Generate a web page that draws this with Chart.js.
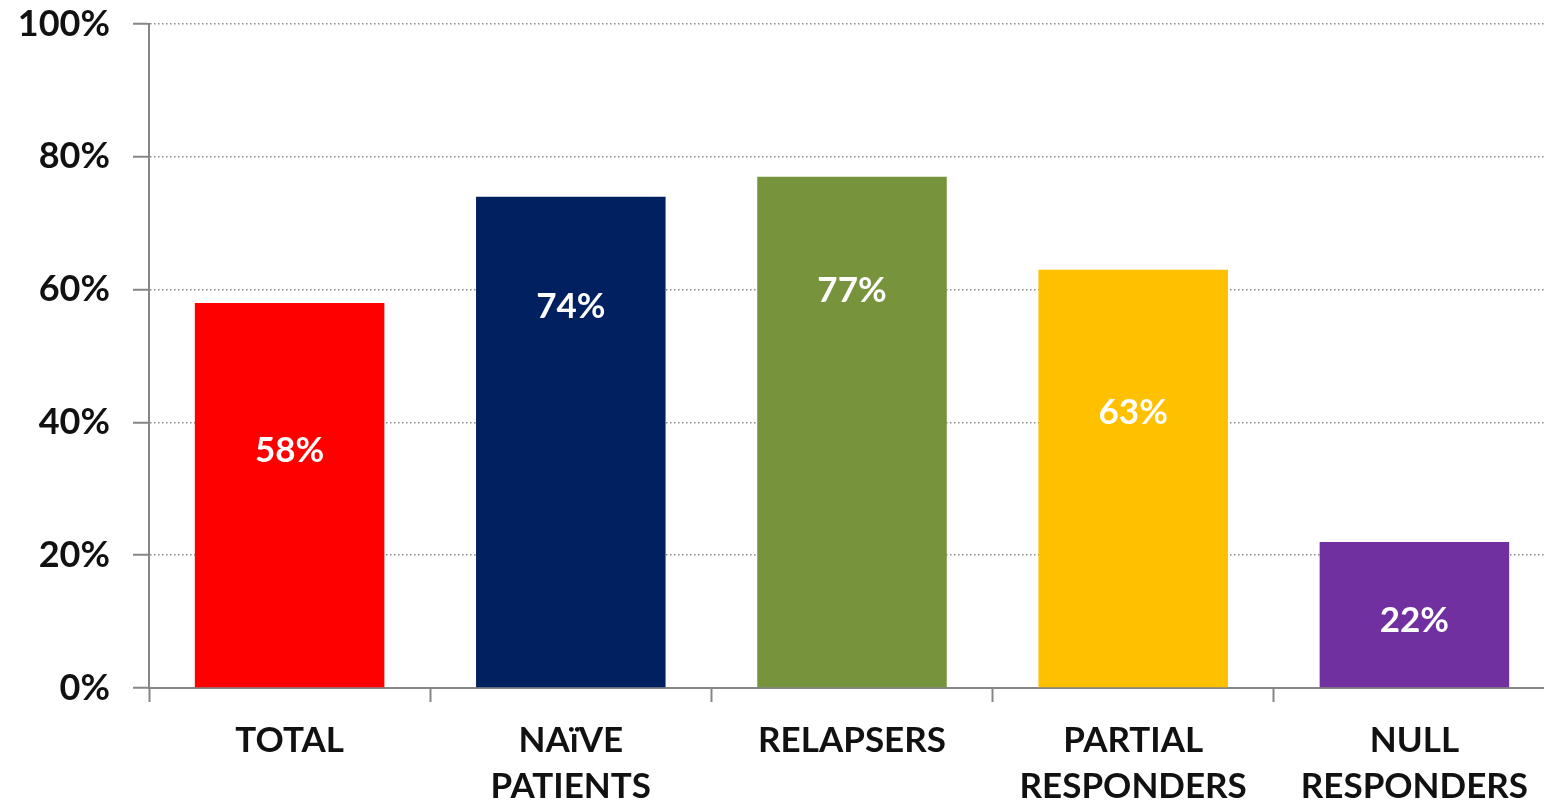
<!DOCTYPE html>
<html>
<head>
<meta charset="utf-8">
<script src="https://cdn.jsdelivr.net/npm/chart.js@4"></script>
<style>
  html, body { margin: 0; padding: 0; background: #fff; overflow: hidden; }
  #wrap { width: 1555px; height: 805px; }
</style>
</head>
<body>
<div id="wrap"><canvas id="responseChart"></canvas></div>
<script>
const categories = [
  "TOTAL",
  ["NAïVE", "PATIENTS"],
  "RELAPSERS",
  ["PARTIAL", "RESPONDERS"],
  ["NULL", "RESPONDERS"],
];
const responseRates = [58, 74, 77, 63, 22];
const valueLabels = ["58%", "74%", "77%", "63%", "22%"];
// where each value label sits, in axis units
const labelAt = [35.8, 57.4, 59.8, 41.4, 10.2];
const barColors = ["#ff0000", "#002060", "#77933c", "#ffc000", "#7030a0"];
const yTicks = [0, 20, 40, 60, 80, 100];

const AXIS_GRAY = "#868686";
const FONT = "Lato, 'Open Sans', sans-serif";

const barLabels = {
  id: "barLabels",
  afterDatasetsDraw(chart) {
    const { ctx } = chart;
    const meta = chart.getDatasetMeta(0);
    const y = chart.scales.y;
    ctx.save();
    ctx.fillStyle = "#ffffff";
    ctx.font = "bold 35px " + FONT;
    ctx.textAlign = "center";
    ctx.textBaseline = "middle";
    meta.data.forEach((bar, i) => {
      ctx.fillText(valueLabels[i], bar.x, y.getPixelForValue(labelAt[i]));
    });
    ctx.restore();
  },
};

new Chart(document.getElementById("responseChart"), {
  type: "bar",
  data: {
    labels: categories,
    datasets: [
      {
        data: responseRates,
        backgroundColor: barColors,
        borderWidth: 0,
        barPercentage: 0.674,
        categoryPercentage: 1,
      },
    ],
  },
  options: {
    responsive: true,
    maintainAspectRatio: false,
    animation: false,
    layout: { padding: { top: 24, right: 0, bottom: 0, left: 0 } },
    plugins: {
      legend: { display: false },
      tooltip: { enabled: false },
    },
    scales: {
      x: {
        offset: true,
        afterFit: (s) => { s.height = 117; },
        grid: {
          offset: true,
          drawOnChartArea: false,
          drawTicks: true,
          tickLength: 14,
          tickColor: AXIS_GRAY,
          tickWidth: 2,
          color: AXIS_GRAY,
        },
        border: { color: AXIS_GRAY, width: 2 },
        ticks: {
          color: "#111",
          padding: 15,
          maxRotation: 0,
          autoSkip: false,
          font: { family: FONT, size: 35, weight: "bold", lineHeight: 1.33 },
        },
      },
      y: {
        min: 0,
        max: 100,
        afterFit: (s) => {
          s.width = 149;
          s.paddingTop = 0;
          s.paddingBottom = 0;
        },
        afterBuildTicks: (s) => { s.ticks = yTicks.map((v) => ({ value: v })); },
        grid: {
          color: "#8c8c8c",
          lineWidth: 1.5,
          drawTicks: true,
          tickLength: 16,
          tickColor: AXIS_GRAY,
          tickWidth: 2,
        },
        border: { color: AXIS_GRAY, width: 2, dash: [1.5, 2.5] },
        ticks: {
          color: "#111",
          padding: 23,
          font: { family: FONT, size: 36, weight: "bold" },
          callback: (v) => v + "%",
        },
      },
    },
  },
  plugins: [barLabels],
});
</script>
</body>
</html>
